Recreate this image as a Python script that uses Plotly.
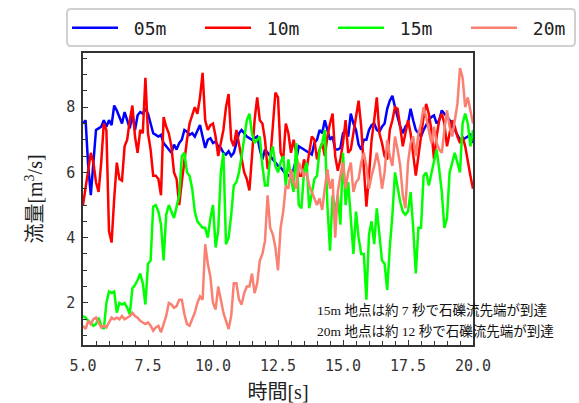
import plotly.graph_objects as go

# 時刻 [s] (0.1 s 刻み)
time_s = [round(5.0 + 0.1 * i, 1) for i in range(151)]

series_names = ["05m", "10m", "15m", "20m"]
series_colors = ["#0000FF", "#FF0000", "#00FF00", "#FA8072"]

# 流量 [m3/s]
q_05m = [
    7.5, 7.6, 6.2, 5.3, 6.3, 7.3, 7.35, 7.4, 7.6, 7.4,
    7.6, 7.45, 8.05, 7.9, 7.7, 7.5, 7.85, 7.6, 7.35, 7.8,
    7.3, 7.75, 7.85, 7.8, 7.95, 7.8, 7.5, 7.2, 7.15, 7.1,
    7.15, 6.9, 6.8, 6.7, 6.6, 6.85, 6.7, 6.9, 7.0, 7.3,
    7.25, 7.15, 7.2, 7.1, 7.3, 7.45, 7.1, 6.75, 7.0, 7.05,
    6.9, 6.95, 6.8, 6.75, 6.6, 6.55, 6.65, 6.5, 6.6, 6.9,
    7.2, 7.3, 7.2, 7.1, 7.05, 7.0, 7.05, 7.1, 6.7, 6.4,
    6.7, 6.6, 6.5, 6.4, 6.3, 6.2, 6.15, 6.05, 5.95, 5.9,
    5.95, 6.1, 6.4, 6.8, 6.75, 6.7, 6.65, 6.6, 6.55, 6.9,
    7.0, 7.3, 7.2, 7.6, 7.3, 7.0, 7.1, 6.7, 6.7, 6.75,
    7.2, 7.3, 7.1, 7.8, 7.5, 7.3, 6.85, 6.7, 7.0, 7.0,
    7.3, 7.45, 7.5, 7.3, 7.25, 7.4, 7.5, 7.95, 8.2, 8.35,
    8.0, 7.7, 7.4, 7.2, 7.4, 7.5, 7.95, 7.6, 7.3, 7.2,
    7.1, 7.3, 7.45, 7.6, 7.7, 7.75, 7.5, 7.6, 7.9, 7.8,
    7.7, 7.6, 7.45, 7.3, 7.15, 7.0, 7.0, 7.05, 7.1, 7.15,
    6.9,
]
q_10m = [
    5.0, 5.5, 6.0, 6.6, 6.3, 5.7, 5.4, 6.3, 7.5, 7.3,
    4.2, 3.85, 5.2, 6.3, 5.8, 5.75, 6.8, 7.0, 7.6, 8.05,
    7.1, 6.6, 7.3, 7.2, 8.9, 7.2, 6.7, 5.9, 5.9, 5.8,
    5.3, 7.7, 7.4, 7.2, 6.8, 6.0, 5.8, 5.0, 5.7, 6.4,
    7.0, 7.5, 7.75, 8.0, 7.8, 8.3, 9.05, 7.6, 7.3, 7.45,
    7.5, 7.1, 6.5, 6.9, 7.3, 8.0, 8.4, 7.0, 6.8, 7.3,
    6.9, 6.4, 6.0, 5.8, 5.45, 6.5, 7.6, 8.3, 7.6, 7.5,
    7.0, 6.1, 6.4, 7.4, 8.45, 8.3, 6.6, 6.4, 7.5, 7.2,
    6.6, 7.0, 6.6, 5.9, 5.9, 6.4, 6.1, 6.6, 7.1, 7.0,
    6.4, 6.7, 6.9, 6.5, 7.1, 7.5, 7.8, 6.5, 6.05, 6.4,
    6.9, 7.6, 6.6, 6.7, 7.2, 7.6, 8.2, 7.4, 6.0, 4.95,
    5.9, 7.0, 7.6, 8.3, 7.2, 6.9, 6.5, 6.4, 7.3, 7.6,
    8.0, 7.95, 7.4, 6.8, 7.2, 7.6, 7.2, 6.5, 5.9, 6.5,
    7.2, 7.7, 8.1, 7.8, 7.3, 6.4, 7.1, 7.6, 7.8, 7.5,
    6.8, 7.2, 7.6, 7.4, 7.1, 6.9, 7.1, 6.8, 6.3, 5.9,
    5.5,
]
q_15m = [
    1.6, 1.55, 1.45, 1.4, 1.3, 1.35, 1.55, 1.3, 1.2, 2.0,
    2.35, 2.3, 2.35, 1.7, 2.0, 1.95, 2.0, 1.85, 1.65, 2.45,
    2.55, 2.7, 2.9, 2.6, 1.95, 3.2, 3.3, 4.95, 5.0, 4.8,
    4.4, 3.3, 4.7, 5.0, 4.8, 4.6, 4.95, 5.3, 6.5, 6.6,
    6.0, 5.9, 5.5, 4.8, 4.5, 4.4, 4.3, 4.3, 4.0, 4.6,
    5.0, 3.7, 4.2, 6.0, 6.6, 3.8, 4.0, 4.7, 5.6, 5.7,
    6.0, 6.5, 7.1, 7.6, 7.8, 7.2, 6.9, 7.0, 7.1, 6.2,
    5.6, 5.6, 6.5, 6.8, 6.2, 6.0, 6.3, 6.5, 5.6, 6.4,
    5.8, 5.4, 6.9, 5.0, 4.9, 6.0, 6.3, 4.9, 5.3, 5.8,
    5.9, 6.7, 6.9, 7.3, 5.0, 3.6, 5.3, 4.8, 5.3, 4.4,
    6.6, 5.0, 5.7, 4.6, 3.5, 4.8, 4.0, 3.5, 3.5, 2.1,
    4.1, 4.5, 3.8, 4.9, 4.0, 3.3, 3.2, 2.4, 3.7, 4.7,
    6.0, 5.5, 5.1, 4.8, 4.7, 4.8, 5.4, 4.3, 2.9, 4.3,
    4.3, 5.9, 6.0, 5.6, 6.0, 6.3, 6.7, 6.1, 5.4, 4.3,
    4.6, 6.0, 6.3, 6.6, 6.3, 6.0, 7.5, 7.8, 7.5, 6.8,
    7.3,
]
q_20m = [
    1.3, 1.2, 1.45, 1.35, 1.5, 1.55, 1.4, 1.25, 1.3, 1.25,
    1.4, 1.55, 1.5, 1.55, 1.5, 1.6, 1.5, 1.55, 1.6, 1.7,
    1.6, 1.55, 1.45, 1.4, 1.35, 1.4, 1.3, 1.15, 1.25, 1.3,
    1.1, 1.35, 1.6, 2.0, 1.95, 1.85, 1.9, 2.1, 2.1, 1.65,
    1.35, 1.3, 1.5, 1.7, 2.0, 2.2, 2.1, 3.8, 3.2, 2.8,
    2.0, 1.8, 2.5, 2.1, 1.7, 1.45, 1.2, 1.6, 2.6, 2.6,
    2.1, 1.95, 2.3, 2.5, 2.5, 2.9, 2.3, 2.6, 3.3, 3.5,
    3.9, 5.3, 4.3, 4.1, 3.7, 3.0, 4.3, 4.8, 5.6, 5.5,
    6.1, 5.7, 5.5, 6.3, 6.1, 5.9, 6.0, 5.6, 5.4, 5.2,
    5.0, 5.2, 4.85, 5.5, 6.1, 5.5, 5.8, 4.0, 5.4, 5.9,
    6.3, 5.5, 6.0, 6.3, 5.4, 5.7, 5.8, 6.3, 6.6, 6.2,
    5.5, 5.9, 6.2, 6.6, 6.2, 5.5, 6.0, 7.0, 6.5, 6.2,
    7.1, 6.7, 6.2, 5.3, 4.9, 6.3, 6.9, 7.1, 6.5, 7.2,
    7.5, 8.0, 7.7, 7.3, 6.9, 7.4, 6.9, 6.7, 6.6, 7.3,
    7.9, 7.4, 7.1, 7.6, 8.1, 9.2, 8.9, 8.0, 8.3, 7.9,
    7.5,
]
series_values = [q_05m, q_10m, q_15m, q_20m]

notes = [
    "15m 地点は約 7 秒で石礫流先端が到達",
    "20m 地点は約 12 秒で石礫流先端が到達",
]

# plot area in pixels (for placing items outside the axes)
W, H = 579, 403
L, R, T, B = 83, 106, 53, 58
PW, PH = W - L - R, H - T - B


def px_x(px):
    return (px - L) / PW


def px_y(py):
    return (H - B - py) / PH


legend_ids = ["legend", "legend2", "legend3", "legend4"]
legend_left = [67, 200, 333, 466]  # left edge of each legend entry [px]

fig = go.Figure()
for name, color, values, lid in zip(series_names, series_colors, series_values, legend_ids):
    fig.add_trace(go.Scatter(
        x=time_s, y=values, mode="lines",
        name="\u00a0" + name,
        legend=lid, showlegend=True,
        line=dict(color=color, width=2.5),
    ))

tick_font = dict(family="DejaVu Sans Mono", size=15, color="#333333")
title_font = dict(family="Liberation Serif, Noto Sans CJK JP", size=20, color="#222222")

fig.update_xaxes(
    range=[5, 20], dtick=2.5, tick0=5, tickformat=".1f",
    ticks="inside", ticklen=5, tickcolor="#333333", ticklabelstandoff=6,
    minor=dict(dtick=0.5, ticks="inside", ticklen=4, tickcolor="#333333"),
    showline=True, linecolor="#333333", linewidth=1.5, mirror=True,
    showgrid=False, zeroline=False, tickfont=tick_font,
    title=dict(text="時間[s]", font=title_font, standoff=14),
)
fig.update_yaxes(
    range=[0.71, 9.66], dtick=2, tick0=0,
    ticks="inside", ticklen=5, tickcolor="#333333", ticklabelstandoff=3,
    minor=dict(dtick=0.5, ticks="inside", ticklen=4, tickcolor="#333333"),
    showline=True, linecolor="#333333", linewidth=1.5, mirror=True,
    showgrid=False, zeroline=False, tickfont=tick_font,
    title=dict(text="流量[m<sup>3</sup>/s]", font=title_font, standoff=18),
)

note_font = dict(family="Liberation Serif, Noto Sans CJK JP", size=13.5, color="#111111")
for i, text in enumerate(notes):
    fig.add_annotation(
        xref="paper", yref="paper",
        x=px_x(315), y=px_y(310 + 21 * i),
        xanchor="left", yanchor="middle",
        text=text, showarrow=False, font=note_font,
    )

# frame around the legend row (rounded corners)
x0, x1, y0, y1, r = px_x(67), px_x(575), px_y(46), px_y(9), 4
rx, ry = r / PW, r / PH
fig.add_shape(
    type="path", xref="paper", yref="paper",
    path=(f"M {x0 + rx},{y1} L {x1 - rx},{y1} Q {x1},{y1} {x1},{y1 - ry} "
          f"L {x1},{y0 + ry} Q {x1},{y0} {x1 - rx},{y0} "
          f"L {x0 + rx},{y0} Q {x0},{y0} {x0},{y0 + ry} "
          f"L {x0},{y1 - ry} Q {x0},{y1} {x0 + rx},{y1} Z"),
    line=dict(color="#d0d0d0", width=2),
)

legend_common = dict(
    orientation="h", xref="container", yref="container",
    xanchor="left", yanchor="middle", y=1 - 28 / H,
    borderwidth=0, bgcolor="rgba(0,0,0,0)",
    font=dict(family="DejaVu Sans Mono", size=18, color="#222222"),
    itemwidth=46, visible=True,
)

fig.update_layout(
    width=W, height=H, showlegend=True,
    margin=dict(l=L, r=R, t=T, b=B, autoexpand=False),
    paper_bgcolor="white", plot_bgcolor="white",
)
for lid, left in zip(legend_ids, legend_left):
    fig.update_layout({lid: dict(legend_common, x=left / W)})

fig.write_html("out.html")
